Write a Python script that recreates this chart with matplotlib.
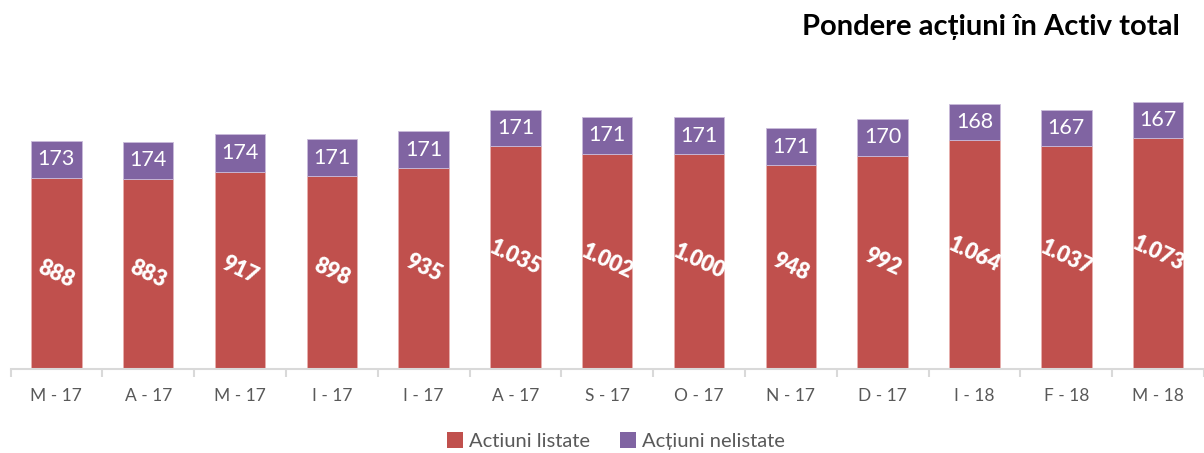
import matplotlib
matplotlib.use("Agg")
import matplotlib.pyplot as plt
import numpy as np
from matplotlib.patches import Patch

categories = ["M - 17", "A - 17", "M - 17", "I - 17", "I - 17", "A - 17", "S - 17",
              "O - 17", "N - 17", "D - 17", "I - 18", "F - 18", "M - 18"]
listed = [888, 883, 917, 898, 935, 1035, 1002, 1000, 948, 992, 1064, 1037, 1073]
unlisted = [173, 174, 174, 171, 171, 171, 171, 171, 171, 170, 168, 167, 167]

RED = "#C0504D"
PURPLE = "#8064A2"
GRAY = "#595959"
AXIS = "#D9D9D9"
FONT = ["Lato", "DejaVu Sans"]

plt.rcParams["font.family"] = FONT

W, H = 1204, 453
fig = plt.figure(figsize=(W / 100, H / 100), dpi=100)
left_px, right_px = 10.5, 1204
bottom_px, top_px = 369, 60
ax = fig.add_axes([left_px / W, (H - bottom_px) / H,
                   (right_px - left_px) / W, (bottom_px - top_px) / H])

step = 92.3
x = np.arange(len(categories))
ax.set_xlim(-0.5, -0.5 + (right_px - left_px) / step)
ax.set_ylim(0, (bottom_px - top_px) / 0.215)

bw = 0.55
ax.bar(x, listed, width=bw, color=RED, edgecolor="#E8B0AE", linewidth=0.6)
ax.bar(x, unlisted, width=bw, bottom=listed, color=PURPLE, edgecolor="#C9BBDA", linewidth=0.6)

for xi, l, u in zip(x, listed, unlisted):
    ax.text(xi, l / 2, f"{l:,}".replace(",", "."), ha="center", va="center",
            rotation=-25, color="white", fontsize=15.5, fontweight="heavy",
            rotation_mode="anchor")
    ax.text(xi, l + u / 2, f"{u}", ha="center", va="center",
            color="white", fontsize=15.5)

for s in ["top", "right", "left"]:
    ax.spines[s].set_visible(False)
ax.spines["bottom"].set_color(AXIS)
ax.spines["bottom"].set_linewidth(1.5)
ax.set_yticks([])
ax.set_xticks(x)
ax.set_xticklabels(categories, color=GRAY, fontsize=12.5)
ax.tick_params(axis="x", which="major", length=0, pad=14)
ax.set_xticks(np.arange(len(categories) + 1) - 0.5, minor=True)
ax.tick_params(axis="x", which="minor", length=6, color=AXIS, width=1.5)

fig.text(1180 / W, 1 - 27 / H, "Pondere acțiuni în Activ total", ha="right", va="center",
         fontsize=21, fontweight="bold", color="black")

handles = [Patch(facecolor=RED, label="Actiuni listate"),
           Patch(facecolor=PURPLE, label="Acțiuni nelistate")]
fig.legend(handles=handles, loc="center", bbox_to_anchor=(616 / W, 1 - 441 / H), ncol=2,
           frameon=False, fontsize=14.5, labelcolor=GRAY, handlelength=0.8, handleheight=0.8,
           handletextpad=0.3, columnspacing=1.5)

fig.savefig("out.png", dpi=100)
